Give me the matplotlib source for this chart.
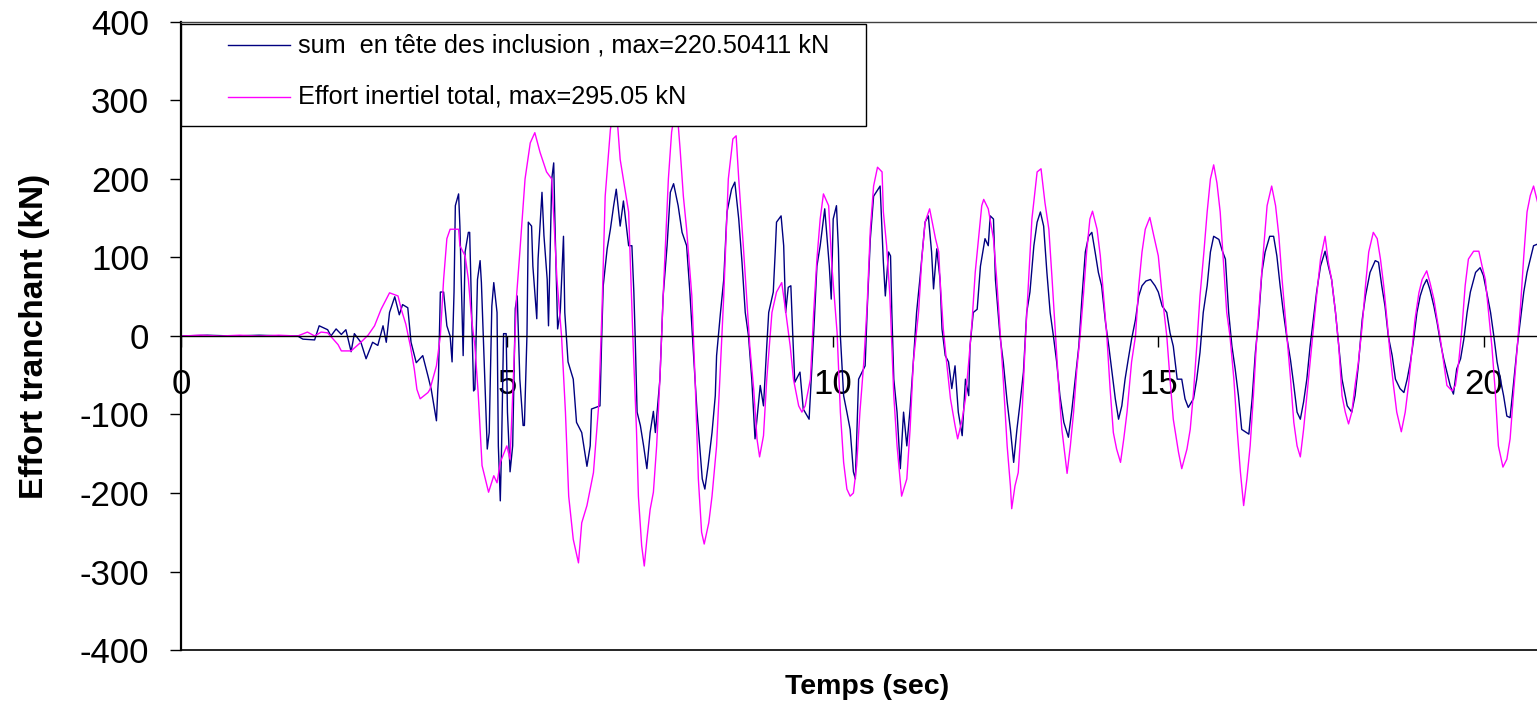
#!/usr/bin/python3

import numpy as np
import matplotlib
matplotlib.use('Agg')
import matplotlib.pyplot as plt
from matplotlib.patches import Rectangle

# (temps s, effort kN) - somme des efforts en tete des inclusions
sum_tete = np.array([
    (0.0, 0), (0.4, 1), (0.8, 0), (1.2, 1), (1.6, 0), (1.79, 0), (1.87, -4), (2.05, -5), (2.12, 13), (2.25, 8),
    (2.30, 0), (2.38, 9), (2.46, 2), (2.53, 8), (2.61, -20), (2.66, 3), (2.76, -8), (2.84, -29), (2.94, -8), (3.02, -12),
    (3.10, 13), (3.15, -8), (3.20, 30), (3.28, 50), (3.35, 27), (3.40, 40), (3.48, 36), (3.53, -8), (3.61, -34), (3.71, -25),
    (3.79, -51), (3.84, -68), (3.92, -108), (3.94, -70), (3.95, -55), (3.98, 56), (4.03, 56), (4.08, 13), (4.13, 0), (4.16, -33),
    (4.19, 56), (4.21, 166), (4.26, 181), (4.28, 140), (4.31, 38), (4.33, -25), (4.36, 107), (4.41, 132), (4.43, 132), (4.46, 30),
    (4.49, -70), (4.51, -68), (4.55, 72), (4.59, 96), (4.61, 68), (4.67, -76), (4.70, -144), (4.73, -123), (4.77, 38), (4.80, 68),
    (4.85, 30), (4.87, -140), (4.90, -210), (4.92, -140), (4.95, 3), (4.99, 3), (5.01, -97), (5.05, -173), (5.09, -140), (5.13, 35),
    (5.16, 51), (5.20, -55), (5.25, -114), (5.27, -114), (5.31, 3), (5.33, 145), (5.38, 140), (5.40, 89), (5.46, 22), (5.48, 98),
    (5.54, 183), (5.57, 128), (5.62, 72), (5.64, 13), (5.69, 200), (5.72, 220.5), (5.74, 140), (5.78, 9), (5.82, 30), (5.87, 127),
    (5.89, 30), (5.94, -33), (6.02, -55), (6.07, -110), (6.15, -123), (6.23, -166), (6.28, -140), (6.30, -93), (6.43, -89), (6.46, 9),
    (6.48, 64), (6.54, 111), (6.59, 136), (6.64, 166), (6.68, 187), (6.74, 140), (6.79, 172), (6.87, 115), (6.92, 115), (6.95, 56),
    (6.97, 0), (7.00, -97), (7.05, -114), (7.10, -140), (7.15, -169), (7.20, -123), (7.25, -96), (7.28, -123), (7.35, -55), (7.40, 51),
    (7.46, 115), (7.51, 183), (7.56, 194), (7.63, 166), (7.69, 132), (7.76, 115), (7.81, 56), (7.87, -29), (7.92, -97), (8.00, -182),
    (8.04, -195), (8.09, -165), (8.15, -123), (8.20, -76), (8.22, -25), (8.28, 30), (8.33, 72), (8.38, 158), (8.45, 187), (8.50, 196),
    (8.56, 149), (8.61, 94), (8.66, 30), (8.71, 0), (8.76, -55), (8.81, -131), (8.89, -63), (8.94, -89), (8.99, -13), (9.02, 30),
    (9.09, 56), (9.12, 107), (9.14, 145), (9.21, 153), (9.25, 115), (9.28, 30), (9.32, 62), (9.36, 64), (9.39, 0), (9.42, -59),
    (9.50, -46), (9.55, -93), (9.64, -106), (9.71, 3), (9.76, 89), (9.81, 115), (9.88, 162), (9.95, 89), (9.98, 47), (10.01, 149),
    (10.06, 166), (10.09, 111), (10.12, 0), (10.17, -76), (10.22, -97), (10.27, -119), (10.32, -173), (10.35, -182), (10.37, -131), (10.40, -55),
    (10.50, -38), (10.53, 30), (10.58, 124), (10.63, 178), (10.73, 191), (10.78, 94), (10.81, 51), (10.86, 107), (10.89, 102), (10.91, 30),
    (10.94, -55), (10.99, -97), (11.04, -169), (11.09, -97), (11.14, -140), (11.19, -93), (11.24, -33), (11.29, 30), (11.34, 72), (11.42, 145),
    (11.47, 153), (11.52, 107), (11.55, 60), (11.60, 111), (11.65, 72), (11.68, 9), (11.73, -25), (11.78, -33), (11.83, -67), (11.88, -38),
    (11.93, -97), (11.99, -127), (12.04, -55), (12.09, -76), (12.11, -13), (12.16, 30), (12.22, 34), (12.27, 89), (12.34, 124), (12.39, 115),
    (12.42, 153), (12.47, 149), (12.50, 72), (12.57, 0), (12.62, -33), (12.68, -84), (12.73, -119), (12.78, -161), (12.83, -119), (12.88, -84),
    (12.93, -46), (12.98, 30), (13.03, 56), (13.09, 115), (13.14, 145), (13.19, 158), (13.24, 140), (13.29, 81), (13.34, 30), (13.39, 0),
    (13.44, -33), (13.49, -76), (13.55, -110), (13.62, -129), (13.67, -97), (13.72, -59), (13.78, -13), (13.83, 51), (13.88, 107), (13.93, 127),
    (13.98, 132), (14.03, 107), (14.08, 81), (14.13, 64), (14.19, 17), (14.24, -13), (14.29, -46), (14.34, -80), (14.39, -106), (14.44, -89),
    (14.49, -55), (14.54, -29), (14.59, -4), (14.65, 21), (14.70, 51), (14.75, 64), (14.81, 70), (14.88, 72), (14.95, 64), (15.00, 56),
    (15.06, 38), (15.13, 30), (15.18, 4), (15.23, -13), (15.29, -55), (15.36, -55), (15.41, -80), (15.46, -91), (15.54, -80), (15.59, -55),
    (15.64, -21), (15.69, 30), (15.75, 64), (15.80, 107), (15.85, 127), (15.93, 123), (15.98, 109), (16.03, 98), (16.08, 30), (16.13, -13),
    (16.18, -42), (16.23, -76), (16.28, -119), (16.39, -125), (16.44, -80), (16.49, -21), (16.54, 21), (16.59, 81), (16.64, 107), (16.71, 127),
    (16.77, 127), (16.82, 102), (16.87, 64), (16.92, 30), (16.97, 0), (17.03, -31), (17.08, -63), (17.13, -97), (17.18, -106), (17.23, -84),
    (17.28, -55), (17.33, -13), (17.38, 21), (17.43, 56), (17.49, 89), (17.56, 108), (17.61, 89), (17.66, 72), (17.72, 30), (17.77, -13),
    (17.82, -55), (17.90, -89), (17.97, -97), (18.02, -76), (18.07, -38), (18.13, 21), (18.18, 51), (18.25, 81), (18.33, 96), (18.38, 94),
    (18.43, 64), (18.48, 38), (18.53, 0), (18.59, -25), (18.64, -55), (18.71, -67), (18.77, -72), (18.82, -55), (18.87, -33), (18.92, -4),
    (18.97, 30), (19.02, 51), (19.07, 64), (19.12, 72), (19.17, 59), (19.23, 38), (19.28, 17), (19.33, -8), (19.38, -29), (19.43, -46),
    (19.48, -63), (19.53, -74), (19.58, -42), (19.64, -29), (19.69, -4), (19.74, 30), (19.79, 56), (19.87, 81), (19.94, 87), (19.99, 77),
    (20.04, 56), (20.10, 30), (20.15, 0), (20.20, -33), (20.25, -55), (20.30, -76), (20.35, -102), (20.40, -104), (20.45, -63), (20.51, -13),
    (20.56, 21), (20.61, 56), (20.66, 81), (20.71, 98), (20.76, 115), (20.82, 117),
])

# (temps s, effort kN) - effort inertiel total
inertiel = np.array([
    (0.0, 0), (0.3, 1), (0.6, 0), (0.9, 1), (1.2, 0), (1.5, 1), (1.79, 0), (1.94, 5), (2.05, 0), (2.15, 5),
    (2.25, 4), (2.41, -11), (2.46, -19), (2.61, -19), (2.76, -8), (2.87, 1), (2.97, 13), (3.07, 34), (3.20, 55), (3.33, 51),
    (3.38, 34), (3.45, 15), (3.52, -13), (3.58, -42), (3.62, -68), (3.67, -80), (3.79, -72), (3.82, -68), (3.92, -38), (3.98, 0),
    (4.03, 72), (4.08, 124), (4.13, 136), (4.26, 136), (4.28, 115), (4.36, 102), (4.41, 72), (4.46, 21), (4.51, -13), (4.56, -72),
    (4.62, -165), (4.72, -199), (4.80, -178), (4.85, -187), (4.90, -161), (5.00, -140), (5.05, -157), (5.10, -55), (5.15, 51), (5.20, 107),
    (5.28, 200), (5.33, 229), (5.36, 246), (5.43, 259), (5.51, 234), (5.61, 209), (5.69, 200), (5.77, 72), (5.84, 0), (5.90, -97),
    (5.95, -204), (6.02, -259), (6.10, -289), (6.15, -238), (6.23, -216), (6.33, -174), (6.41, -89), (6.46, 30), (6.51, 178), (6.59, 263),
    (6.65, 295.05), (6.70, 270), (6.74, 225), (6.87, 158), (6.94, -13), (6.99, -119), (7.02, -204), (7.07, -267), (7.11, -293), (7.15, -259),
    (7.20, -221), (7.25, -199), (7.30, -140), (7.35, -55), (7.40, 51), (7.48, 200), (7.53, 260), (7.58, 285), (7.63, 270), (7.66, 238),
    (7.71, 178), (7.76, 136), (7.84, 51), (7.89, -55), (7.94, -182), (7.99, -250), (8.03, -265), (8.10, -238), (8.15, -204), (8.22, -140),
    (8.27, -55), (8.33, 51), (8.40, 200), (8.47, 251), (8.52, 255), (8.56, 200), (8.63, 115), (8.68, 51), (8.73, -13), (8.79, -68),
    (8.84, -131), (8.88, -154), (8.94, -127), (8.99, -55), (9.07, 30), (9.14, 56), (9.22, 68), (9.27, 38), (9.35, -13), (9.40, -55),
    (9.48, -89), (9.53, -97), (9.58, -89), (9.66, -55), (9.71, 30), (9.76, 98), (9.81, 149), (9.86, 181), (9.94, 166), (9.99, 89),
    (10.07, 4), (10.12, -97), (10.17, -161), (10.22, -195), (10.27, -204), (10.32, -200), (10.37, -165), (10.42, -97), (10.48, -33), (10.53, 38),
    (10.58, 136), (10.63, 191), (10.69, 215), (10.76, 209), (10.78, 158), (10.83, 115), (10.88, 51), (10.91, -13), (10.94, -76), (10.99, -140),
    (11.06, -204), (11.14, -182), (11.19, -119), (11.24, -33), (11.32, 30), (11.37, 98), (11.42, 145), (11.49, 162), (11.58, 124), (11.63, 107),
    (11.65, 72), (11.70, 9), (11.75, -33), (11.81, -80), (11.88, -114), (11.92, -131), (11.99, -106), (12.04, -80), (12.09, -33), (12.14, 17),
    (12.19, 81), (12.24, 124), (12.29, 166), (12.32, 174), (12.39, 162), (12.47, 124), (12.52, 72), (12.57, 9), (12.62, -55), (12.68, -140),
    (12.73, -191), (12.75, -220), (12.80, -191), (12.85, -174), (12.91, -97), (12.96, -4), (13.01, 72), (13.06, 149), (13.14, 209), (13.20, 213),
    (13.26, 170), (13.32, 136), (13.37, 72), (13.42, 4), (13.47, -63), (13.52, -119), (13.60, -175), (13.65, -140), (13.70, -97), (13.75, -42),
    (13.80, 0), (13.85, 51), (13.90, 107), (13.95, 149), (13.99, 159), (14.06, 136), (14.11, 102), (14.16, 51), (14.21, 0), (14.26, -67),
    (14.31, -123), (14.36, -144), (14.42, -161), (14.47, -131), (14.52, -97), (14.59, -33), (14.65, 0), (14.70, 64), (14.75, 107), (14.80, 136),
    (14.87, 151), (14.93, 128), (15.00, 102), (15.06, 51), (15.13, 0), (15.18, -55), (15.23, -106), (15.31, -148), (15.36, -169), (15.44, -144),
    (15.49, -119), (15.54, -72), (15.59, -13), (15.64, 51), (15.70, 107), (15.75, 158), (15.80, 200), (15.85, 218), (15.90, 195), (15.95, 158),
    (16.00, 94), (16.05, 30), (16.10, 0), (16.16, -55), (16.21, -119), (16.26, -173), (16.31, -216), (16.36, -182), (16.41, -140), (16.46, -76),
    (16.51, -4), (16.56, 51), (16.62, 115), (16.67, 166), (16.74, 191), (16.80, 166), (16.85, 128), (16.90, 72), (16.97, 4), (17.03, -55),
    (17.08, -110), (17.13, -140), (17.18, -154), (17.23, -119), (17.28, -76), (17.33, -34), (17.38, 9), (17.43, 51), (17.49, 98), (17.56, 127),
    (17.61, 94), (17.66, 72), (17.72, 30), (17.77, -13), (17.82, -76), (17.87, -97), (17.92, -112), (17.97, -97), (18.02, -63), (18.07, -34),
    (18.13, 13), (18.18, 64), (18.23, 107), (18.30, 132), (18.36, 124), (18.41, 98), (18.46, 64), (18.51, 21), (18.56, -25), (18.61, -63),
    (18.66, -97), (18.73, -122), (18.79, -97), (18.84, -63), (18.89, -21), (18.94, 21), (19.00, 55), (19.05, 72), (19.12, 83), (19.17, 68),
    (19.23, 47), (19.28, 21), (19.33, -4), (19.38, -34), (19.43, -63), (19.51, -70), (19.56, -63), (19.61, -34), (19.66, 9), (19.71, 64),
    (19.76, 98), (19.84, 108), (19.92, 108), (19.97, 89), (20.02, 72), (20.07, 30), (20.12, -13), (20.17, -68), (20.22, -140), (20.29, -167),
    (20.35, -157), (20.40, -131), (20.45, -76), (20.51, -13), (20.56, 38), (20.61, 102), (20.66, 158), (20.71, 179), (20.76, 191), (20.82, 171),
])

series_labels = ['sum  en tête des inclusion , max=220.50411 kN',
                 'Effort inertiel total, max=295.05 kN']
series_colors = ['#000080', '#FF00FF']

x_ticks = [0, 5, 10, 15, 20]
y_ticks = list(range(-400, 401, 100))
x_max = 20.86


def main():
    plt.rcParams['font.family'] = ['Liberation Sans', 'DejaVu Sans']
    plt.rcParams['axes.unicode_minus'] = False

    fig = plt.figure(figsize=(15.37, 7.09), dpi=100)
    ax = fig.add_axes([0.1178, 0.0832, 0.8842, 0.8858])

    for data, col in zip([sum_tete, inertiel], series_colors):
        ax.plot(data[:, 0], data[:, 1], color=col, lw=1.0, zorder=2)

    ax.set_xlim(0, x_max)
    ax.set_ylim(-400, 400)
    ax.set_xticks(x_ticks)
    ax.set_yticks(y_ticks)
    ax.set_xticklabels([str(v) for v in x_ticks])
    ax.set_yticklabels([str(v) for v in y_ticks])
    ax.tick_params(axis='both', direction='out', length=8, width=1,
                   labelsize=25, pad=15, color='black')

    # x axis crosses at zero, plot area keeps its own frame
    ax.spines['bottom'].set_position(('data', 0))
    ax.spines['bottom'].set_linewidth(1.0)
    ax.spines['left'].set_linewidth(1.6)
    ax.spines['top'].set_linewidth(1.0)
    ax.spines['top'].set_color('#404040')
    ax.spines['right'].set_visible(False)
    ax.plot([0, 1], [0, 0], transform=ax.transAxes, color='black',
            lw=1.2, clip_on=False, zorder=3)

    ax.set_xlabel('Temps (sec)', fontsize=20.5, fontweight='bold')
    ax.xaxis.set_label_coords(0.505, -0.038)
    ax.set_ylabel('Effort tranchant (kN)', fontsize=24, fontweight='bold')
    ax.yaxis.set_label_coords(-0.0964, 0.5)

    # legend box in the upper left corner of the plot area
    ax.add_patch(Rectangle((0.0, 0.834), 0.504, 0.163, transform=ax.transAxes,
                           facecolor='white', edgecolor='black', lw=1.0,
                           zorder=5, clip_on=False))
    rows = [0.963, 0.881]
    for lab, col, yy in zip(series_labels, series_colors, rows):
        ax.plot([0.0346, 0.0802], [yy, yy], transform=ax.transAxes,
                color=col, lw=1.0, zorder=6)
        ax.text(0.0861, yy, lab, transform=ax.transAxes, fontsize=18.2,
                va='center', ha='left', zorder=6)

    fig.savefig('out.png', dpi=100)


if __name__ == "__main__":
    main()
